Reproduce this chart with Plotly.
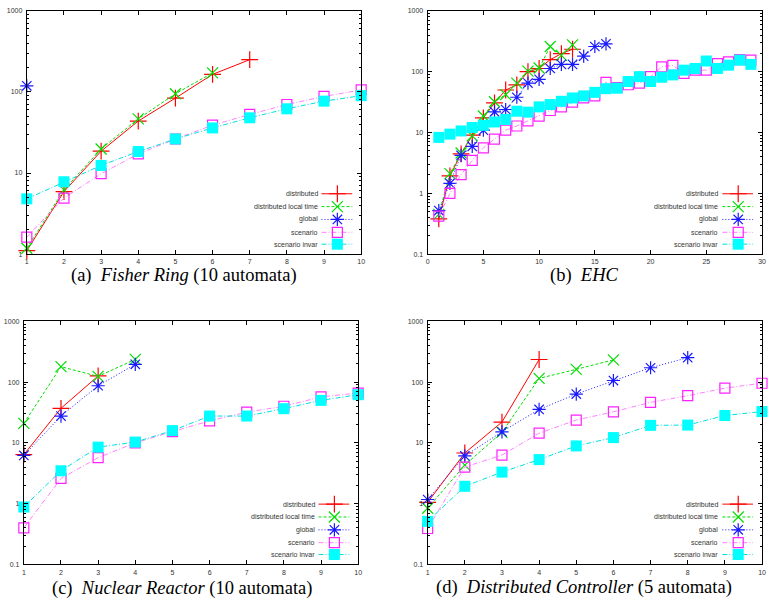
import plotly.graph_objects as go

# ---------------- data ----------------
# (a) Fisher Ring (10 automata)
a_x = [1, 2, 3, 4, 5, 6, 7, 8, 9, 10]
a_distributed = [1.1, 5.9, 18.6, 43.8, 84, 165, 250]
a_local = [1.18, 6.2, 19.8, 46.6, 95, 172]
a_global = [119]
a_scenario = [1.62, 4.9, 9.8, 17.2, 26.3, 38.9, 52.8, 70, 88, 106]
a_invar = [4.8, 7.8, 12.4, 18.4, 26.3, 36, 48, 62, 77, 90]

# (b) EHC
b_x = list(range(1, 30))
b_distributed = [0.38, 1.93, 4.45, 9.05, 17.4, 30.6, 50, 60.5, 100, 113, 158, 198, 234]
b_local = [0.45, 2.1, 4.6, 8.8, 18.7, 32, 42, 65, 102, 115, 260, 186, 277]
b_global = [0.52, 1.45, 4.2, 5.9, 10.9, 21.9, 23.9, 38, 65, 75, 113, 132, 132, 180, 260, 288]
b_scenario = [0.42, 1.0, 2.03, 3.47, 5.6, 7.8, 10.9, 12.8, 15.5, 18.6, 23, 26.4, 31.7, 37, 40,
              67, 55, 61, 65, 83, 120, 127, 94, 106, 106, 136, 145, 158, 155]
b_invar = [8.3, 9.4, 10.6, 12.1, 13.1, 14.9, 16.4, 22.4, 21.6, 26.4, 28.8, 32.6, 37, 40, 45.7,
           52.6, 53.5, 69, 83, 69, 81, 88.6, 106, 113, 150, 113, 128, 155, 132]

# (c) Nuclear Reactor (10 automata)
c_x = [1, 2, 3, 4, 5, 6, 7, 8, 9, 10]
c_distributed = [6.4, 37, 126]
c_local = [20.9, 179, 124, 236]
c_global = [6.2, 27.6, 87, 196]
c_scenario = [0.40, 2.6, 5.7, 10, 15.3, 23, 32, 40, 57, 66]
c_invar = [0.88, 3.47, 8.5, 10.3, 15.9, 27.6, 27.6, 36.5, 50, 62]

# (d) Distributed Controller (5 automata)
d_x = [1, 2, 3, 4, 5, 6, 7, 8, 9, 10]
d_distributed = [1.05, 6.8, 22, 235]
d_local = [0.84, 4.3, 14.9, 115, 162, 232]
d_global = [1.17, 6.1, 15.2, 35.4, 63.5, 106, 172, 252]
d_scenario = [0.39, 4.0, 6.3, 14.4, 23.7, 32.4, 46.4, 59.6, 79.5, 95.6]
d_invar = [0.51, 1.93, 3.3, 5.3, 8.9, 12.2, 19.4, 19.6, 28.2, 32.7]

series_names = ["distributed", "distributed local time", "global", "scenario", "scenario invar"]

captions = ["(a)  <i>Fisher Ring</i> (10 automata)", "(b)  <i>EHC</i>",
            "(c)  <i>Nuclear Reactor</i> (10 automata)",
            "(d)  <i>Distributed Controller</i> (5 automata)"]

# ---------------- styles ----------------
styles = [
    dict(line=dict(color="#ff0000", width=1, dash="solid"),
         marker=dict(symbol="cross-thin-open", size=12, color="#ff0000", line=dict(width=1.2, color="#ff0000"))),
    dict(line=dict(color="#00dd00", width=1, dash="3px,2px"),
         marker=dict(symbol="x-thin-open", size=11, color="#00dd00", line=dict(width=1.2, color="#00dd00"))),
    dict(line=dict(color="#1a1aff", width=1, dash="1px,2px"),
         marker=dict(symbol="asterisk-open", size=11, color="#1a1aff", line=dict(width=1.2, color="#1a1aff"))),
    dict(line=dict(color="#ff80ff", width=1, dash="5px,2px,1px,2px"),
         marker=dict(symbol="square-open", size=10, color="#ff22ff", line=dict(width=1.2, color="#ff22ff"))),
    dict(line=dict(color="#00e0e0", width=1, dash="5px,2px,1px,2px"),
         marker=dict(symbol="square", size=11, color="#00ffff", line=dict(width=0))),
]

panels = [
    (a_x, [a_distributed, a_local, a_global, a_scenario, a_invar]),
    (b_x, [b_distributed, b_local, b_global, b_scenario, b_invar]),
    (c_x, [c_distributed, c_local, c_global, c_scenario, c_invar]),
    (d_x, [d_distributed, d_local, d_global, d_scenario, d_invar]),
]

W, H = 769, 603
# pixel boxes: left, right, top, bottom
boxes = [(25, 362, 7, 253), (429, 766, 7, 253), (22, 359, 321, 567), (429, 766, 321, 567)]

fig = go.Figure()
for i, (xs, ys_list) in enumerate(panels):
    ax = "" if i == 0 else str(i + 1)
    for name, ys, st in zip(series_names, ys_list, styles):
        fig.add_trace(go.Scatter(
            x=xs[:len(ys)], y=ys, name=name, mode="lines+markers",
            line=st["line"], marker=st["marker"], cliponaxis=False,
            xaxis="x" + ax, yaxis="y" + ax, showlegend=False, hoverinfo="skip"))

# legend keys (gnuplot style: text right-aligned, key sample to its right),
# drawn on an invisible overlay axis measured in pixels
row_offsets = [61, 48, 35, 22, 10]
for i, (l, r, t, b) in enumerate(boxes):
    for name, st, dy in zip(series_names, styles, row_offsets):
        yk = b - dy
        fig.add_trace(go.Scatter(x=[r - 40, r - 9], y=[yk, yk], mode="lines", line=st["line"],
                                 xaxis="x5", yaxis="y5", showlegend=False, hoverinfo="skip"))
        fig.add_trace(go.Scatter(x=[r - 24], y=[yk], mode="markers", marker=st["marker"],
                                 xaxis="x5", yaxis="y5", showlegend=False, hoverinfo="skip",
                                 cliponaxis=False))
        fig.add_annotation(text=name, xref="x5", yref="y5", x=r - 42, y=yk, xanchor="right",
                           yanchor="middle", showarrow=False,
                           font=dict(family="Liberation Sans, Arial, sans-serif", size=7, color="#333"))

layout = dict(width=W, height=H, margin=dict(l=0, r=0, t=0, b=0),
              paper_bgcolor="white", plot_bgcolor="rgba(0,0,0,0)", showlegend=False,
              font=dict(family="Liberation Sans, Arial, sans-serif", size=7, color="#222"))

tickfont = dict(family="Liberation Sans, Arial, sans-serif", size=7, color="#333")
for i, (l, r, t, b) in enumerate(boxes):
    ax = "" if i == 0 else str(i + 1)
    xdom = [l / W, r / W]
    ydom = [1 - b / H, 1 - t / H]
    if i == 1:
        xr, xdt = [-0.0001, 30.0001], 5
    else:
        xr, xdt = [0.9999, 10.0001], 1
    yr = [-0.0001, 3.0001] if i == 0 else [-1.0001, 3.0001]
    layout["xaxis" + ax] = dict(domain=xdom, range=xr, dtick=xdt, tick0=0, anchor="y" + ax,
                                showline=True, mirror="allticks", linecolor="black", linewidth=1,
                                ticks="inside", ticklen=4, tickcolor="black", showgrid=False,
                                zeroline=False, tickfont=tickfont, ticklabelstandoff=1,
                                ticklabeloverflow="allow")
    layout["yaxis" + ax] = dict(domain=ydom, type="log", range=yr, dtick=1, anchor="x" + ax,
                                exponentformat="none", showline=True, mirror="allticks",
                                linecolor="black", linewidth=1, ticks="inside", ticklen=4,
                                tickcolor="black", showgrid=False, zeroline=False,
                                tickfont=tickfont, ticklabelstandoff=2, ticklabeloverflow="allow",
                                minor=dict(ticks="inside", ticklen=2, tickcolor="black",
                                           dtick="D1", showgrid=False))

layout["xaxis5"] = dict(domain=[0, 1], range=[0, W], visible=False, anchor="y5", fixedrange=True)
layout["yaxis5"] = dict(domain=[0, 1], range=[H, 0], visible=False, anchor="x5", fixedrange=True)

fig.update_layout(**layout)

cap_pos = [(183, 275), (587, 275), (181, 591), (587, 590)]
for text, (cx, cy) in zip(captions, cap_pos):
    fig.add_annotation(text=text, xref="paper", yref="paper", x=cx / W, y=1 - cy / H,
                       xanchor="center", yanchor="middle", showarrow=False,
                       font=dict(family="Liberation Serif, Times New Roman, serif", size=18.5, color="black"))

fig.write_html("out.html", config={"displayModeBar": False},
               post_script="document.body.style.margin='0';document.body.style.padding='0';document.body.style.overflow='hidden';")
